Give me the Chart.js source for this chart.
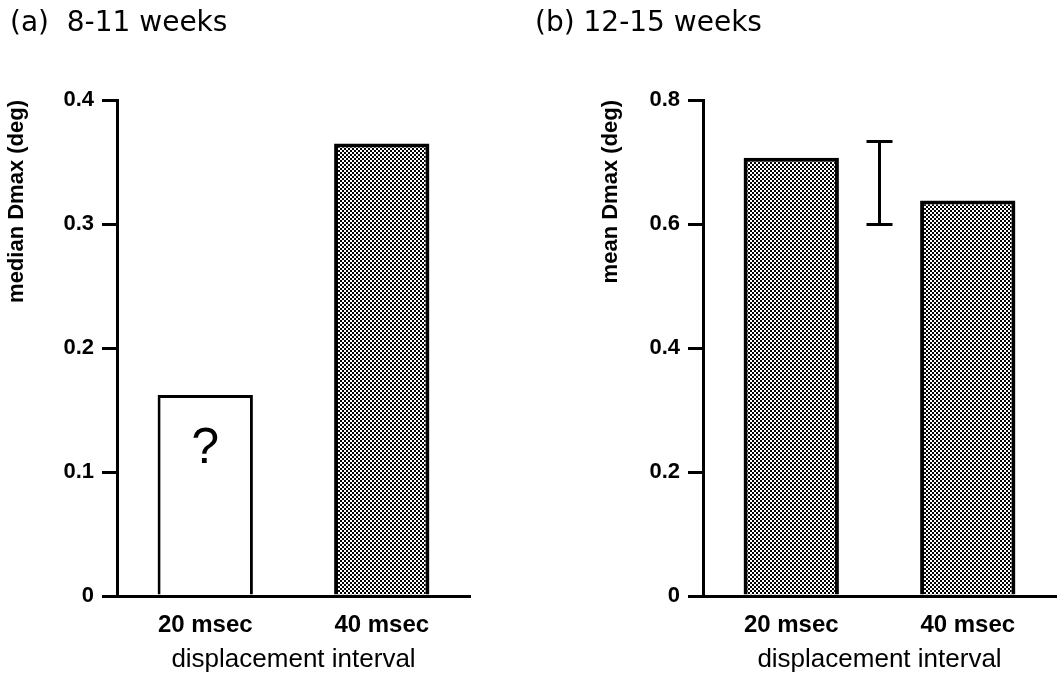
<!DOCTYPE html>
<html>
<head>
<meta charset="utf-8">
<script src="https://cdn.jsdelivr.net/npm/chart.js@4"></script>
<style>
  html, body { margin: 0; padding: 0; background: #fff; }
  #wrap { position: relative; width: 1061px; height: 673px; overflow: hidden; }
  canvas { position: absolute; top: 0; }
  #ca { left: 0; }
  #cb { left: 520px; }
</style>
</head>
<body>
<div id="wrap">
  <canvas id="ca" width="520" height="673"></canvas>
  <canvas id="cb" width="541" height="673"></canvas>
</div>
<script>
// ---- data ----
const categories = ['20 msec', '40 msec'];
const medianDmax811 = [0.162, 0.365];   // panel (a), 8-11 weeks
const meanDmax1215 = [0.707, 0.638];    // panel (b), 12-15 weeks
const errorBar1215 = [0.599, 0.733];    // representative error bar, panel (b)
const ticksA = [0, 0.1, 0.2, 0.3, 0.4];
const ticksB = [0, 0.2, 0.4, 0.6, 0.8];
const titleA = '(a)  8-11 weeks';
const titleB = '(b) 12-15 weeks';
const yTitleA = 'median Dmax (deg)';
const yTitleB = 'mean Dmax (deg)';
const xTitle = 'displacement interval';
const uncertainMark = '?';

// ---- stippled fill ----
function stipple() {
  const c = document.createElement('canvas');
  c.width = 4; c.height = 4;
  const g = c.getContext('2d');
  g.fillStyle = '#fff'; g.fillRect(0, 0, 4, 4);
  g.fillStyle = '#000';
  g.fillRect(0, 0, 2, 2); g.fillRect(2, 2, 2, 2);
  return g.createPattern(c, 'repeat');
}
const shade = stipple();

// ---- plugins ----
const panelTitle = {
  id: 'panelTitle',
  afterDraw(chart, args, o) {
    const ctx = chart.ctx;
    ctx.save();
    ctx.fillStyle = '#000';
    ctx.font = o.font;
    ctx.textBaseline = 'middle';
    ctx.textAlign = 'left';
    ctx.fillText(o.text, o.x, o.y);
    ctx.restore();
  }
};

const barNote = {
  id: 'barNote',
  afterDatasetsDraw(chart, args, o) {
    if (!o.text) return;
    const bar = chart.getDatasetMeta(0).data[o.index];
    const ctx = chart.ctx;
    ctx.save();
    ctx.fillStyle = '#000';
    ctx.font = o.font;
    ctx.textAlign = 'center';
    ctx.textBaseline = 'middle';
    ctx.fillText(o.text, bar.x, bar.y + o.dy);
    ctx.restore();
  }
};

const errorBar = {
  id: 'errorBar',
  afterDatasetsDraw(chart, args, o) {
    if (!o.range) return;
    const { ctx, scales: { x, y } } = chart;
    const cx = x.getPixelForValue(o.at);
    const y0 = y.getPixelForValue(o.range[0]);
    const y1 = y.getPixelForValue(o.range[1]);
    ctx.save();
    ctx.strokeStyle = '#000';
    ctx.lineWidth = 3;
    ctx.beginPath();
    ctx.moveTo(cx, y0); ctx.lineTo(cx, y1);
    ctx.moveTo(cx - o.cap, y0); ctx.lineTo(cx + o.cap, y0);
    ctx.moveTo(cx - o.cap, y1); ctx.lineTo(cx + o.cap, y1);
    ctx.stroke();
    ctx.restore();
  }
};

// ---- shared chart builder ----
function makePanel(canvasId, cfg) {
  const ticks = cfg.ticks;
  return new Chart(document.getElementById(canvasId), {
    type: 'bar',
    data: {
      labels: categories,
      datasets: [{
        data: cfg.values,
        backgroundColor: cfg.fills,
        borderColor: '#000',
        borderWidth: cfg.borders,
        barPercentage: 0.54,
        categoryPercentage: 1
      }]
    },
    options: {
      responsive: false,
      animation: false,
      layout: { padding: { left: cfg.padLeft, right: cfg.padRight, top: 100, bottom: 0 } },
      plugins: {
        legend: { display: false },
        tooltip: { enabled: false },
        panelTitle: { text: cfg.title, x: cfg.titleX, y: 24, font: '28px "DejaVu Sans"' },
        barNote: cfg.note || {},
        errorBar: cfg.err || {}
      },
      scales: {
        x: {
          grid: { display: false, drawTicks: false, tickLength: 0 },
          border: { display: true, color: '#000', width: 3 },
          ticks: {
            color: '#000',
            padding: 15,
            font: { family: 'Liberation Sans', size: 24, weight: 'bold' }
          },
          title: {
            display: true,
            text: xTitle,
            color: '#000',
            padding: { top: 0, bottom: 0 },
            font: { family: 'Liberation Sans', size: 26, lineHeight: 1 }
          },
          afterFit(s) { s.height = 77; }
        },
        y: {
          min: ticks[0],
          max: ticks[ticks.length - 1],
          afterBuildTicks(s) { s.ticks = ticks.map(v => ({ value: v })); },
          grid: { display: true, drawOnChartArea: false, drawTicks: true, tickLength: 15, color: '#000', lineWidth: 3 },
          border: { display: true, color: '#000', width: 3 },
          ticks: {
            color: '#000',
            padding: 8,
            font: { family: 'Liberation Sans', size: 22, weight: 'bold' }
          },
          title: {
            display: true,
            text: cfg.yTitle,
            align: 'end',
            color: '#000',
            padding: 0,
            font: { family: 'Liberation Sans', size: 22, weight: 'bold' }
          },
          afterFit(s) { s.width = cfg.yWidth; }
        }
      }
    },
    plugins: [panelTitle, barNote, errorBar]
  });
}

makePanel('ca', {
  values: medianDmax811,
  fills: ['#fff', shade],
  borders: [3, 4],
  ticks: ticksA,
  title: titleA, titleX: 10,
  yTitle: yTitleA,
  padLeft: 4, padRight: 50, yWidth: 113,
  note: { text: uncertainMark, index: 0, dy: 54, font: '50px "Liberation Sans"' }
});

makePanel('cb', {
  values: meanDmax1215,
  fills: [shade, shade],
  borders: [4, 4],
  ticks: ticksB,
  title: titleB, titleX: 15,
  yTitle: yTitleB,
  padLeft: 78, padRight: 5, yWidth: 105,
  err: { range: errorBar1215, at: 0.5, cap: 13 }
});
</script>
</body>
</html>
